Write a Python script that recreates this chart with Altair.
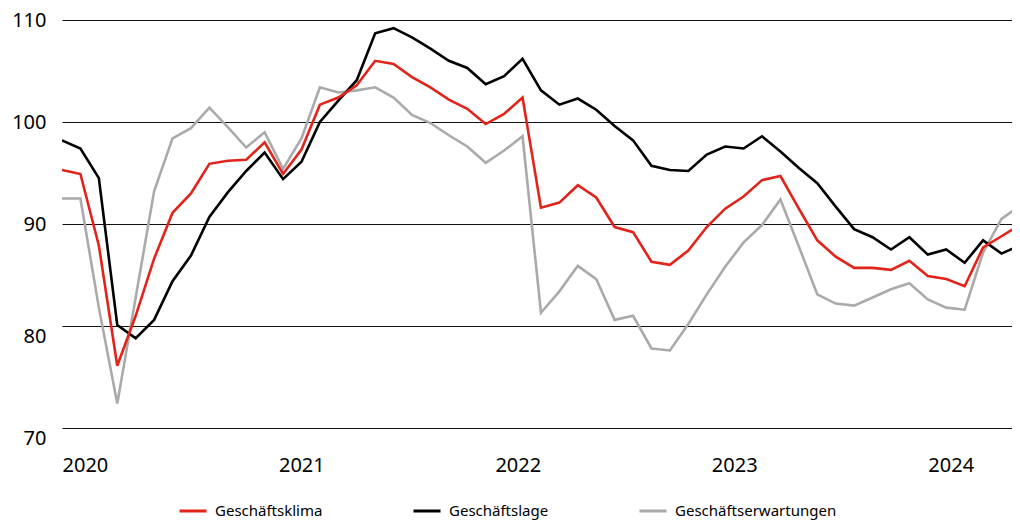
import altair as alt
import pandas as pd

series_names = ["Geschäftsklima", "Geschäftslage", "Geschäftserwartungen"]
series_colors = ["#e2231a", "#000000", "#aaaaaa"]

klima = [95.3, 94.9, 87.9, 76.1, 81.0, 86.6, 91.1, 93.0, 95.9, 96.2, 96.3, 98.0,
         94.9, 97.3, 101.7, 102.4, 103.6, 106.0, 105.7, 104.4, 103.4, 102.2, 101.3, 99.8,
         100.8, 102.4, 91.6, 92.1, 93.8, 92.6, 89.7, 89.2, 86.3, 86.0, 87.4, 89.7,
         91.5, 92.7, 94.3, 94.7, 91.5, 88.4, 86.8, 85.7, 85.7, 85.5, 86.4, 84.9,
         84.6, 83.9, 87.7, 88.8, 89.9]
lage = [98.2, 97.4, 94.5, 80.1, 78.8, 80.6, 84.4, 86.9, 90.7, 93.1, 95.2, 97.0,
        94.4, 96.1, 100.0, 102.1, 104.1, 108.7, 109.2, 108.3, 107.2, 106.0, 105.3, 103.7,
        104.5, 106.2, 103.1, 101.7, 102.3, 101.2, 99.6, 98.2, 95.7, 95.3, 95.2, 96.8,
        97.6, 97.4, 98.6, 97.1, 95.5, 94.0, 91.7, 89.5, 88.7, 87.5, 88.7, 87.0,
        87.5, 86.2, 88.4, 87.1, 87.9]
erwartungen = [92.5, 92.5, 81.8, 72.4, 82.8, 93.2, 98.4, 99.4, 101.4, 99.5, 97.5, 99.0,
               95.4, 98.4, 103.4, 102.9, 103.1, 103.4, 102.4, 100.7, 99.9, 98.7, 97.6, 96.0,
               97.2, 98.6, 81.3, 83.4, 85.9, 84.6, 80.6, 81.0, 77.8, 77.6, 80.2, 83.1,
               85.8, 88.2, 89.9, 92.4, 87.8, 83.1, 82.2, 82.0, 82.8, 83.6, 84.2, 82.6,
               81.8, 81.6, 87.2, 90.5, 91.8]

year_tick_values = [0, 11.75, 23.5, 35.25, 47]
y_ticks = [70, 80, 90, 100, 110]

rows = []
for name, vals in [("Geschäftserwartungen", erwartungen), ("Geschäftslage", lage), ("Geschäftsklima", klima)]:
    for i, v in enumerate(vals):
        rows.append({"m": i, "wert": v, "reihe": name, "ord": series_names.index(name)})
df = pd.DataFrame(rows)

chart = alt.Chart(df).mark_line(strokeWidth=2.6, clip=True).encode(
    x=alt.X("m:Q",
            scale=alt.Scale(domain=[0, 51.57], nice=False, zero=False),
            axis=alt.Axis(values=year_tick_values, title=None, grid=False, domain=False, ticks=False,
                          labelExpr="'' + (2020 + round(datum.value / 11.75))",
                          labelAlign="left", labelBaseline="top", labelPadding=27,
                          labelFont="Noto Sans", labelFontSize=20, labelColor="#000")),
    y=alt.Y("wert:Q",
            scale=alt.Scale(domain=[70, 110], nice=False, zero=False),
            axis=alt.Axis(values=y_ticks, title=None, domain=False, ticks=False,
                          grid=True, gridColor="#111", gridWidth=1,
                          labelPadding=16, labelFont="Noto Sans", labelFontSize=20, labelColor="#000",
                          labelBaseline={"condition": {"test": "datum.value <= 80", "value": "top"}, "value": "middle"})),
    color=alt.Color("reihe:N",
                    scale=alt.Scale(domain=series_names, range=series_colors),
                    legend=alt.Legend(title=None, orient="none", legendX=116, legendY=476,
                                      direction="horizontal", symbolType="stroke", symbolSize=729,
                                      symbolStrokeWidth=3, labelOffset=7, columnPadding=84,
                                      labelLimit=400,
                                      labelFont="Noto Sans", labelFontSize=15, labelColor="#000")),
    order=alt.Order("ord:Q"),
    detail="reihe:N",
).properties(
    width=950, height=408,
    autosize=alt.AutoSizeParams(type="none"),
    padding={"left": 54, "top": 12, "right": 0, "bottom": 93},
).configure_view(stroke=None)

chart.save("out.html", embed_options={"renderer": "svg", "actions": False})
